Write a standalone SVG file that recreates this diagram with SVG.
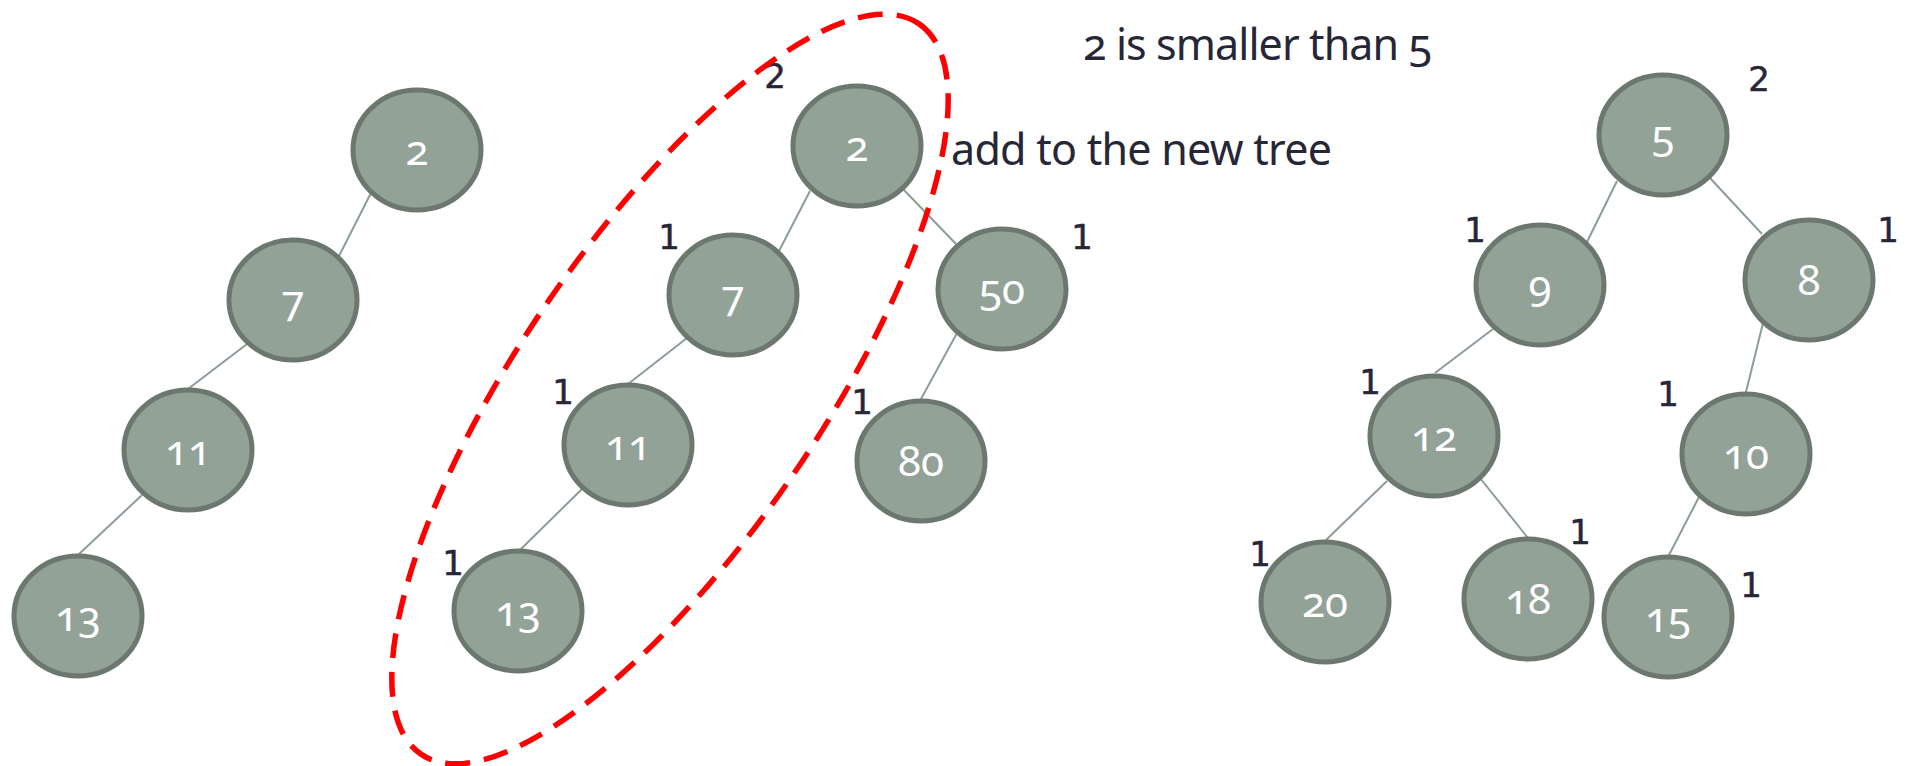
<svg xmlns="http://www.w3.org/2000/svg" width="1908" height="766" viewBox="0 0 1908 766">
  <style>
    .node ellipse { fill: #93a297; stroke: #6c786f; stroke-width: 5; }
    .node text { font-family: "Noto Sans", "Open Sans", sans-serif; font-size: 42px; fill: #ffffff; text-anchor: middle; font-variant-numeric: oldstyle-nums; font-feature-settings: "onum" 1; }
    .edges line { stroke: #8e9d93; stroke-width: 2; }
    .count { font-family: "DejaVu Sans", sans-serif; font-size: 34px; fill: #262636; stroke: #262636; stroke-width: 0.5; text-anchor: middle; }
    .note { font-family: "Noto Sans", "Open Sans", sans-serif; font-size: 43px; fill: #262636; font-variant-numeric: oldstyle-nums; font-feature-settings: "onum" 1; }
    .loop { fill: none; stroke: #ff0000; stroke-width: 5.5; stroke-dasharray: 25 14; }
  </style>
  <rect width="1908" height="766" fill="#ffffff"/>

  <!-- tree links -->
  <g id="connectors" class="edges">
    <line x1="371" y1="193" x2="339" y2="256"/>
    <line x1="247" y1="344" x2="188" y2="389"/>
    <line x1="142" y1="495" x2="78" y2="555"/>
    <line x1="810" y1="191" x2="779" y2="251"/>
    <line x1="903" y1="189" x2="956" y2="244"/>
    <line x1="687" y1="338" x2="628" y2="384"/>
    <line x1="583" y1="488" x2="519" y2="551"/>
    <line x1="957" y1="333" x2="921" y2="399"/>
    <line x1="1617" y1="181" x2="1587" y2="242"/>
    <line x1="1710" y1="178" x2="1762" y2="234"/>
    <line x1="1493" y1="329" x2="1435" y2="373"/>
    <line x1="1763" y1="323" x2="1746" y2="392"/>
    <line x1="1387" y1="481" x2="1326" y2="540"/>
    <line x1="1480" y1="478" x2="1528" y2="538"/>
    <line x1="1699" y1="497" x2="1669" y2="555"/>
  </g>

  <!-- left tree -->
  <g id="a-2" class="node"><ellipse cx="417" cy="150" rx="64" ry="60"/><text x="417" y="165">2</text></g>
  <g id="a-7" class="node"><ellipse cx="293" cy="300" rx="64" ry="60"/><text x="293" y="315">7</text></g>
  <g id="a-11" class="node"><ellipse cx="188" cy="450" rx="64" ry="60"/><text x="188" y="465">11</text></g>
  <g id="a-13" class="node"><ellipse cx="78" cy="616" rx="64" ry="60"/><text x="78" y="631">13</text></g>

  <!-- middle tree -->
  <g id="b-2" class="node"><ellipse cx="857" cy="146" rx="64" ry="60"/><text x="857" y="161">2</text></g>
  <g id="b-7" class="node"><ellipse cx="733" cy="295" rx="64" ry="60"/><text x="733" y="310">7</text></g>
  <g id="b-11" class="node"><ellipse cx="628" cy="445" rx="64" ry="60"/><text x="628" y="460">11</text></g>
  <g id="b-13" class="node"><ellipse cx="518" cy="611" rx="64" ry="60"/><text x="518" y="626">13</text></g>
  <g id="b-50" class="node"><ellipse cx="1002" cy="289" rx="64" ry="60"/><text x="1002" y="304">50</text></g>
  <g id="b-80" class="node"><ellipse cx="921" cy="461" rx="64" ry="60"/><text x="921" y="476">80</text></g>

  <!-- right tree -->
  <g id="c-5" class="node"><ellipse cx="1663" cy="135" rx="64" ry="60"/><text x="1663" y="150">5</text></g>
  <g id="c-9" class="node"><ellipse cx="1540" cy="285" rx="64" ry="60"/><text x="1540" y="300">9</text></g>
  <g id="c-8" class="node"><ellipse cx="1809" cy="280" rx="64" ry="60"/><text x="1809" y="295">8</text></g>
  <g id="c-12" class="node"><ellipse cx="1434" cy="436" rx="64" ry="60"/><text x="1434" y="451">12</text></g>
  <g id="c-10" class="node"><ellipse cx="1746" cy="454" rx="64" ry="60"/><text x="1746" y="469">10</text></g>
  <g id="c-20" class="node"><ellipse cx="1325" cy="602" rx="64" ry="60"/><text x="1325" y="617">20</text></g>
  <g id="c-18" class="node"><ellipse cx="1528" cy="599" rx="64" ry="60"/><text x="1528" y="614">18</text></g>
  <g id="c-15" class="node"><ellipse cx="1668" cy="617" rx="64" ry="60"/><text x="1668" y="632">15</text></g>

  <!-- subtree heights -->
  <g id="heights">
    <text class="count" x="775" y="88">2</text>
    <text class="count" x="669" y="249">1</text>
    <text class="count" x="563" y="404">1</text>
    <text class="count" x="453" y="575">1</text>
    <text class="count" x="1082" y="249">1</text>
    <text class="count" x="862" y="414">1</text>
    <text class="count" x="1759" y="91">2</text>
    <text class="count" x="1475" y="242">1</text>
    <text class="count" x="1888" y="242">1</text>
    <text class="count" x="1370" y="394">1</text>
    <text class="count" x="1668" y="406">1</text>
    <text class="count" x="1260" y="566">1</text>
    <text class="count" x="1580" y="544">1</text>
    <text class="count" x="1751" y="597">1</text>
  </g>

  <!-- notes -->
  <g id="notes">
    <text class="note" x="1083" y="60" textLength="349" lengthAdjust="spacing">2 is smaller than 5</text>
    <text class="note" x="951" y="165" textLength="381" lengthAdjust="spacing">add to the new tree</text>
  </g>

  <!-- selected branch outline -->
  <ellipse id="selection" class="loop" cx="670" cy="389" rx="442" ry="150" transform="rotate(-55.7 670 389)"/>
</svg>
